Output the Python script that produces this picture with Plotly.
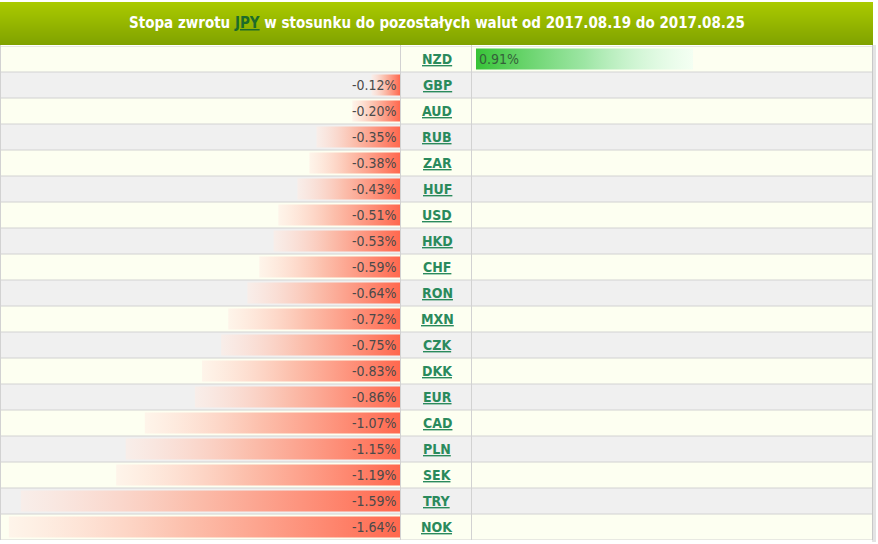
import plotly.graph_objects as go

W, H = 878, 544

currencies = ["NZD", "GBP", "AUD", "RUB", "ZAR", "HUF", "USD", "HKD", "CHF", "RON",
              "MXN", "CZK", "DKK", "EUR", "CAD", "PLN", "SEK", "TRY", "NOK"]
returns = [0.91, -0.12, -0.20, -0.35, -0.38, -0.43, -0.51, -0.53, -0.59, -0.64,
           -0.72, -0.75, -0.83, -0.86, -1.07, -1.15, -1.19, -1.59, -1.64]
title_text = ("Stopa zwrotu <span style='color:#1d6b2a'><u>JPY</u></span> w stosunku do "
              "pozostałych walut od 2017.08.19 do 2017.08.25")

FONT = "Tahoma, 'DejaVu Sans Condensed', 'Liberation Sans', sans-serif"
PX_PER_PCT = 238.5

def px(x):
    return x / W

def py(y):
    return 1 - y / H

n = len(currencies)
TOP, ROW = 46, 26
BOTTOM = TOP + ROW * n
LEFT_END, MID_END, RIGHT_END = 400, 471, 872
POS_START = 476
HALF = 10.5 / ROW

fig = go.Figure()

for i, (c, v) in enumerate(zip(currencies, returns)):
    ys = [i - HALF, i - HALF, i + HALF, i + HALF, i - HALF]
    if v < 0:
        xs = [v, 0, 0, v, v]
        fig.add_trace(go.Scatter(
            x=xs, y=ys, xaxis="x", yaxis="y", mode="lines", fill="toself",
            line=dict(width=0, color="rgba(0,0,0,0)"),
            fillgradient=dict(type="horizontal",
                              colorscale=[[0, "rgba(255,236,228,0.55)"], [0.45, "rgba(252,185,165,0.9)"],
                                          [1, "rgb(255,104,78)"]]),
            hoverinfo="skip", showlegend=False))
        fig.add_annotation(x=0, y=i, xref="x", yref="y", xanchor="right", yanchor="middle",
                           xshift=-1, showarrow=False, text=f"{v:.2f}%",
                           font=dict(family=FONT, size=14, color="#4a4a4a"))
    else:
        xs = [0, v, v, 0, 0]
        fig.add_trace(go.Scatter(
            x=xs, y=ys, xaxis="x2", yaxis="y", mode="lines", fill="toself",
            line=dict(width=0, color="rgba(0,0,0,0)"),
            fillgradient=dict(type="horizontal",
                              colorscale=[[0, "rgba(55,195,55,1)"], [0.5, "rgba(140,225,150,0.85)"],
                                          [1, "rgba(230,255,245,0.4)"]]),
            hoverinfo="skip", showlegend=False))
        fig.add_annotation(x=0, y=i, xref="x2", yref="y", xanchor="left", yanchor="middle",
                           xshift=1, showarrow=False, text=f"{v:.2f}%",
                           font=dict(family=FONT, size=14, color="#35603a"))
    fig.add_annotation(x=px(437), y=i, xref="paper", yref="y", xanchor="center",
                       yanchor="middle", showarrow=False, text=f"<b><u>{c}</u></b>",
                       font=dict(family=FONT, size=14, color="#2a8a5c"))

shapes = []
for i in range(n):
    shapes.append(dict(type="rect", xref="paper", yref="y", x0=0, x1=px(RIGHT_END),
                       y0=i - 0.5, y1=i + 0.5, line=dict(width=0),
                       fillcolor="#fdfff1" if i % 2 == 0 else "#f0f0f0", layer="below"))
for i in range(n + 1):
    shapes.append(dict(type="line", xref="paper", yref="y", x0=0, x1=px(RIGHT_END),
                       y0=i - 0.5, y1=i - 0.5, line=dict(width=1, color="#d2d2d2"), layer="below"))
for xv in [0.5, LEFT_END + 0.5, MID_END + 0.5]:
    shapes.append(dict(type="line", xref="paper", yref="paper", x0=px(xv), x1=px(xv),
                       y0=py(TOP - 1), y1=py(BOTTOM), line=dict(width=1, color="#d2d2d2"),
                       layer="below"))
shapes.append(dict(type="rect", xref="paper", yref="paper", x0=px(RIGHT_END), x1=px(RIGHT_END + 4),
                   y0=py(BOTTOM + 2), y1=py(TOP - 1), line=dict(width=0), fillcolor="#e4e4e4"))
shapes.append(dict(type="line", xref="paper", yref="paper", x0=px(RIGHT_END + 0.5), x1=px(RIGHT_END + 0.5),
                   y0=py(BOTTOM), y1=py(TOP - 1), line=dict(width=1, color="#c8c8c8")))
t0, t1 = 2, 45
c_top = (170, 202, 0)
c_bot = (128, 162, 0)
for k in range(t0, t1):
    f = (k - t0) / (t1 - t0 - 1)
    col = tuple(round(a + (b - a) * f) for a, b in zip(c_top, c_bot))
    shapes.append(dict(type="rect", xref="paper", yref="paper", x0=0, x1=px(RIGHT_END + 1),
                       y0=py(k + 1), y1=py(k), line=dict(width=0),
                       fillcolor=f"rgb{col}"))

fig.add_annotation(x=px(437), y=py(23), xref="paper", yref="paper", xanchor="center",
                   yanchor="middle", showarrow=False, text=f"<b>{title_text}</b>",
                   font=dict(family=FONT, size=15, color="#ffffff"))

fig.update_layout(
    width=W, height=H, margin=dict(l=0, r=0, t=0, b=0),
    paper_bgcolor="#ffffff", plot_bgcolor="rgba(0,0,0,0)",
    shapes=shapes, showlegend=False,
    xaxis=dict(domain=[0, px(LEFT_END)], range=[-LEFT_END / PX_PER_PCT, 0],
               visible=False, fixedrange=True),
    xaxis2=dict(domain=[px(POS_START), px(RIGHT_END)],
                range=[0, (RIGHT_END - POS_START) / PX_PER_PCT],
                visible=False, fixedrange=True),
    yaxis=dict(domain=[py(BOTTOM), py(TOP)], range=[n - 0.5, -0.5],
               visible=False, fixedrange=True),
)

fig.write_html("out.html", config={"displayModeBar": False})
